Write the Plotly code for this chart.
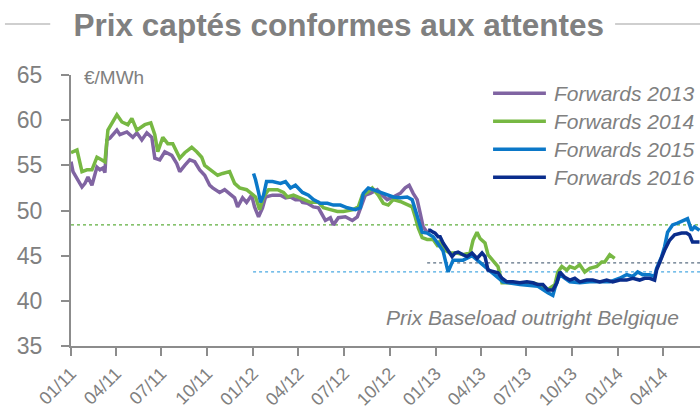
import plotly.graph_objects as go

# ---------------- data ----------------
series_names = ["Forwards 2013", "Forwards 2014", "Forwards 2015", "Forwards 2016"]
series_colors = ["#8064A2", "#77B843", "#0B78C8", "#0A2D8C"]

f2013_dates = ["2011-01-01","2011-01-05","2011-01-23","2011-01-29","2011-02-04","2011-02-12","2011-02-22","2011-02-28",
    "2011-03-06","2011-03-10","2011-03-14","2011-03-20","2011-04-03","2011-04-09","2011-04-23","2011-05-05","2011-05-13",
    "2011-05-23","2011-06-02","2011-06-12","2011-06-18","2011-06-28","2011-07-08","2011-07-22","2011-08-01","2011-08-07",
    "2011-08-17","2011-08-27","2011-09-06","2011-09-16","2011-09-26","2011-10-06","2011-10-12","2011-10-26","2011-11-05",
    "2011-11-15","2011-11-25","2011-12-01","2011-12-11","2011-12-19","2011-12-29","2012-01-04","2012-01-12","2012-01-20",
    "2012-01-26","2012-02-09","2012-02-25","2012-03-06","2012-03-16","2012-03-26","2012-04-05","2012-04-09","2012-04-19",
    "2012-05-01","2012-05-11","2012-05-25","2012-06-04","2012-06-10","2012-06-20","2012-07-04","2012-07-18","2012-07-28",
    "2012-08-07","2012-08-13","2012-08-23","2012-09-06","2012-09-16","2012-09-26","2012-10-08","2012-10-22","2012-11-01",
    "2012-11-09","2012-11-17","2012-11-25","2012-12-01","2012-12-07","2012-12-15","2012-12-21"]
f2013_values = [55.4,54.3,52.6,53.0,53.7,52.8,54.8,54.5,
    54.7,54.2,57.8,58.0,58.9,58.4,58.7,58.1,58.6,
    57.8,58.6,58.1,55.8,55.6,56.5,56.1,55.2,54.3,
    55.0,55.6,55.4,54.5,53.9,52.8,52.5,52.0,52.3,
    51.9,51.4,50.4,51.4,50.9,51.7,50.4,49.3,50.3,
    51.5,51.7,51.7,51.4,51.5,51.2,51.2,50.9,50.8,
    50.4,50.3,48.9,49.2,48.4,49.2,49.3,48.9,49.3,
    50.8,51.7,51.9,52.3,51.7,51.2,51.5,51.9,52.5,
    52.8,51.9,51.2,49.7,48.2,47.6,47.5]

f2014_dates = ["2011-01-01","2011-01-13","2011-01-23","2011-02-02","2011-02-12","2011-02-22","2011-03-04","2011-03-10",
    "2011-03-16","2011-04-03","2011-04-13","2011-04-25","2011-05-03","2011-05-13","2011-05-29","2011-06-10","2011-06-18",
    "2011-06-24","2011-07-04","2011-07-14","2011-07-24","2011-08-07","2011-08-17","2011-08-31","2011-09-10","2011-09-20",
    "2011-09-26","2011-10-12","2011-10-22","2011-11-01","2011-11-15","2011-11-25","2011-12-05","2011-12-19","2011-12-29",
    "2012-01-06","2012-01-14","2012-01-22","2012-02-01","2012-02-19","2012-03-02","2012-03-10","2012-03-22","2012-04-05",
    "2012-04-25","2012-05-11","2012-05-21","2012-06-04","2012-06-18","2012-06-30","2012-07-20","2012-07-30","2012-08-07",
    "2012-08-17","2012-08-27","2012-09-08","2012-09-18","2012-09-28","2012-10-08","2012-10-22","2012-11-05","2012-11-15",
    "2012-11-21","2012-11-27","2012-12-05","2012-12-15","2012-12-27","2013-01-06","2013-01-10","2013-01-20","2013-01-30",
    "2013-02-13","2013-02-25","2013-03-11","2013-03-17","2013-03-25","2013-03-31","2013-04-10","2013-04-16","2013-04-26",
    "2013-05-06","2013-05-14","2013-05-24","2013-06-19","2013-07-15","2013-08-04","2013-08-14","2013-08-18","2013-08-28",
    "2013-09-03","2013-09-11","2013-09-21","2013-09-27","2013-10-07","2013-10-17","2013-10-27","2013-11-06","2013-11-20",
    "2013-11-30","2013-12-06","2013-12-16","2013-12-26"]
f2014_values = [56.4,56.7,54.3,54.5,54.5,55.9,55.6,55.4,
    58.9,60.6,59.8,59.5,60.2,58.9,59.5,59.7,58.4,
    56.5,58.1,57.4,57.4,55.8,56.4,57.0,56.5,55.9,
    55.0,54.3,53.9,54.1,54.3,53.0,52.5,52.3,51.9,
    51.5,50.1,51.5,52.3,52.3,52.0,51.5,51.7,51.4,
    50.9,50.9,50.3,50.1,49.9,49.9,50.1,50.4,51.7,
    52.0,52.5,51.7,50.8,50.6,51.2,51.0,50.6,50.4,
    49.3,48.1,47.0,46.8,46.8,46.0,46.7,45.6,45.3,
    45.3,45.1,45.3,46.7,47.6,46.9,46.4,45.1,44.5,
    43.8,42.0,42.0,42.0,42.0,41.6,41.2,41.4,41.8,
    43.2,43.8,43.4,43.8,43.6,44.0,43.2,43.6,43.8,
    44.3,44.3,45.1,44.7]

f2015_dates = ["2012-01-02","2012-01-06","2012-01-12","2012-01-16","2012-01-22","2012-01-28","2012-02-09","2012-02-25",
    "2012-03-06","2012-03-16","2012-03-26","2012-04-09","2012-04-21","2012-05-01","2012-05-15","2012-05-29","2012-06-10",
    "2012-06-24","2012-07-08","2012-07-24","2012-08-03","2012-08-09","2012-08-19","2012-08-29","2012-09-12","2012-09-26",
    "2012-10-08","2012-10-22","2012-11-05","2012-11-15","2012-11-21","2012-11-27","2012-12-05","2012-12-15","2012-12-27",
    "2013-01-10","2013-01-16","2013-01-26","2013-02-05","2013-02-25","2013-03-15","2013-04-14","2013-05-16","2013-06-19",
    "2013-07-25","2013-08-14","2013-08-24","2013-08-28","2013-09-07","2013-09-27","2013-10-17","2013-11-06","2013-11-26",
    "2013-12-16","2014-01-05","2014-01-19","2014-01-31","2014-02-10","2014-02-20","2014-03-06","2014-03-16","2014-03-20",
    "2014-03-30","2014-04-05","2014-04-11","2014-04-21","2014-05-01","2014-05-11","2014-05-21","2014-05-29","2014-06-04",
    "2014-06-14"]
f2015_values = [54.1,53.4,52.0,50.9,51.7,53.2,53.2,53.0,
    53.2,52.5,52.8,52.0,51.7,51.2,50.8,50.8,50.6,
    50.6,50.3,50.1,50.3,51.9,52.5,52.3,52.0,51.7,
    51.5,51.4,51.5,51.2,50.1,48.9,47.6,47.5,47.1,
    46.0,45.5,43.2,44.5,44.5,45.0,43.6,42.1,41.8,
    41.6,40.9,40.6,41.4,42.9,42.1,42.0,42.1,42.1,
    42.1,42.5,42.9,42.7,43.2,42.9,42.9,42.7,43.6,
    44.9,46.0,47.6,48.4,48.6,48.9,49.1,47.8,48.2,
    47.8]

f2016_dates = ["2012-12-17","2012-12-21","2012-12-27","2012-12-31","2013-01-06","2013-01-10","2013-01-16","2013-01-26",
    "2013-02-03","2013-02-09","2013-02-15","2013-02-25","2013-03-05","2013-03-15","2013-03-25","2013-04-04","2013-04-10",
    "2013-04-16","2013-04-26","2013-05-06","2013-05-14","2013-05-24","2013-06-05","2013-06-19","2013-07-03","2013-07-15",
    "2013-07-25","2013-08-04","2013-08-14","2013-08-24","2013-09-01","2013-09-07","2013-09-17","2013-09-27","2013-10-07",
    "2013-10-17","2013-10-31","2013-11-12","2013-11-26","2013-12-10","2013-12-22","2014-01-05","2014-01-19","2014-01-31",
    "2014-02-14","2014-02-24","2014-03-06","2014-03-16","2014-03-20","2014-03-26","2014-04-05","2014-04-15","2014-04-25",
    "2014-05-09","2014-05-19","2014-05-25","2014-05-31","2014-06-14"]
f2016_values = [47.8,47.8,47.6,47.5,47.1,47.1,46.4,45.6,
    44.9,45.3,45.4,45.1,44.9,45.3,44.7,45.3,44.9,
    43.4,43.2,43.1,42.5,42.1,42.1,42.0,42.1,42.0,
    41.8,41.8,41.2,41.2,42.0,43.2,42.6,42.3,42.5,
    42.1,42.3,42.3,42.1,42.3,42.1,42.3,42.3,42.5,
    42.3,42.5,42.5,42.3,43.4,44.3,45.6,46.7,47.3,
    47.5,47.5,47.3,46.5,46.5]

# reference (dotted) levels: value, start date, colour
ref_levels = [48.4, 44.2, 43.2]
ref_starts = ["2011-01-01", "2012-12-15", "2012-01-01"]
ref_colors = ["#5FAE3E", "#5B6F82", "#4BA9E2"]
x_end = "2014-06-15"

tick_dates = ["2011-01-01","2011-04-01","2011-07-01","2011-10-01","2012-01-01","2012-04-01","2012-07-01",
              "2012-10-01","2013-01-01","2013-04-01","2013-07-01","2013-10-01","2014-01-01","2014-04-01"]
tick_labels = ["01/11","04/11","07/11","10/11","01/12","04/12","07/12",
               "10/12","01/13","04/13","07/13","10/13","01/14","04/14"]

title_text = "Prix captés conformes aux attentes"
unit_text = "€/MWh"
note_text = "Prix Baseload outright Belgique"

# ---------------- figure ----------------
GRAY = "#808080"
FONT = "Liberation Sans, Arial, sans-serif"

fig = go.Figure()
all_x = [f2013_dates, f2014_dates, f2015_dates, f2016_dates]
all_y = [f2013_values, f2014_values, f2015_values, f2016_values]
for name, col, xs, ys in zip(series_names, series_colors, all_x, all_y):
    fig.add_trace(go.Scatter(x=xs, y=ys, mode="lines", name=name,
                             line=dict(color=col, width=3.5), showlegend=False))

shapes = []
annotations = []
for lvl, st, col in zip(ref_levels, ref_starts, ref_colors):
    shapes.append(dict(type="line", xref="x", yref="y", x0=st, x1=x_end, y0=lvl, y1=lvl,
                       line=dict(color=col, width=1.2, dash="dot"), layer="below"))

# manual legend (long line samples like the reference)
leg_y = [0.9325, 0.829, 0.726, 0.6225]
for name, col, ly in zip(series_names, series_colors, leg_y):
    shapes.append(dict(type="line", xref="paper", yref="paper", x0=0.671, x1=0.755, y0=ly, y1=ly,
                       line=dict(color=col, width=3.5)))
    annotations.append(dict(text=name, xref="paper", yref="paper", x=0.764, y=ly, xanchor="left",
                            yanchor="middle", showarrow=False,
                            font=dict(family=FONT, size=21, color=GRAY, style="italic")))

# title side rules
shapes.append(dict(type="line", xref="paper", yref="paper", x0=-0.105, x1=-0.033, y0=1.188, y1=1.188,
                   line=dict(color="#BFBFBF", width=1.5)))
shapes.append(dict(type="line", xref="paper", yref="paper", x0=0.865, x1=1.0, y0=1.188, y1=1.188,
                   line=dict(color="#BFBFBF", width=1.5)))

annotations.append(dict(text=unit_text, xref="paper", yref="paper", x=0.017, y=0.99, xanchor="left",
                        yanchor="middle", showarrow=False, font=dict(family=FONT, size=19, color=GRAY)))
annotations.append(dict(text=note_text, xref="paper", yref="paper", x=0.97, y=0.107, xanchor="right",
                        yanchor="middle", showarrow=False,
                        font=dict(family=FONT, size=21, color=GRAY, style="italic")))

fig.update_layout(
    width=700, height=409,
    margin=dict(l=71, r=0, t=75, b=63, autoexpand=False),
    paper_bgcolor="white", plot_bgcolor="white",
    title=dict(text=f"<b>{title_text}</b>", x=0.484, xref="container", xanchor="center",
               y=0.94, yref="container", yanchor="middle",
               font=dict(family=FONT, size=31.5, color=GRAY)),
    shapes=shapes, annotations=annotations, showlegend=False,
    xaxis=dict(type="date", range=["2011-01-01", x_end], tickvals=tick_dates, ticktext=tick_labels,
               tickangle=-45, showgrid=False, zeroline=False, showline=True, linecolor="#8C8C8C",
               linewidth=2, ticks="outside", ticklen=8, tickwidth=2, tickcolor="#8C8C8C", automargin=False,
               tickfont=dict(family=FONT, size=18, color=GRAY)),
    yaxis=dict(range=[35, 65], dtick=5, tick0=35, showgrid=False, zeroline=False, showline=True,
               linecolor="#8C8C8C", linewidth=2, ticks="outside", ticklen=8, tickwidth=2,
               tickcolor="#8C8C8C", ticklabelstandoff=14, automargin=False,
               tickfont=dict(family=FONT, size=23, color=GRAY)),
)

fig.write_html("out.html", config={"displayModeBar": False},
               post_script="document.body.style.margin='0';document.body.style.overflow='hidden';")
